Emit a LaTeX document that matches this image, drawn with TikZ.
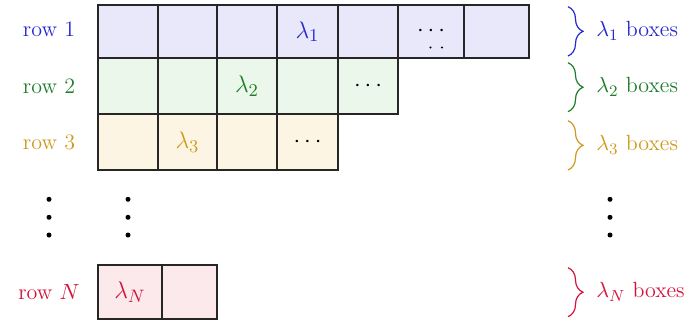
\documentclass[tikz,border=0pt]{standalone}
\usetikzlibrary{fit,decorations.pathreplacing}

\definecolor{rowblue}{RGB}{40,40,210}
\definecolor{rowgreen}{RGB}{30,125,40}
\definecolor{rowgold}{RGB}{205,155,30}
\definecolor{rowred}{RGB}{210,20,60}
\definecolor{fillblue}{RGB}{232,232,250}
\definecolor{fillgreen}{RGB}{234,247,234}
\definecolor{fillgold}{RGB}{253,245,228}
\definecolor{fillred}{RGB}{252,233,236}

% one box of the diagram: name, left, top, right, bottom, fill, text colour, text
\newcommand{\youngcell}[8]{%
  \node[cellbox,fill=#6,fit={(#2,#3) (#4,#5)}] (#1) {};
  \node[celltext,text=#7] at (#1.center) {#8};}

\begin{document}
\begin{tikzpicture}[x=0.5pt,y=-0.5pt,
  cellbox/.style={inner sep=0pt,outer sep=0pt},
  cellborder/.style={draw=black!85,line width=0.9pt},
  celltext/.style={font=\fontsize{13}{15}\selectfont,inner sep=0pt},
  rowlabel/.style={font=\fontsize{11}{13}\selectfont,inner sep=0pt},
  countlabel/.style={font=\fontsize{11}{13}\selectfont,anchor=west,inner sep=0pt},
  rowbrace/.style={decorate,decoration={brace,amplitude=7.5pt},line width=0.6pt},
  bigdot/.style={circle,fill=black,inner sep=0pt,minimum size=2.5pt}]
\useasboundingbox (0,0) rectangle (687,321);

% row 1
\youngcell{a1}{98}{5}{158}{58}{fillblue}{rowblue}{}
\youngcell{a2}{158}{5}{217}{58}{fillblue}{rowblue}{}
\youngcell{a3}{217}{5}{277}{58}{fillblue}{rowblue}{}
\youngcell{a4}{277}{5}{338}{58}{fillblue}{rowblue}{$\lambda_1$}
\youngcell{a5}{338}{5}{398}{58}{fillblue}{rowblue}{}
\youngcell{a6}{398}{5}{464}{58}{fillblue}{black}{$\cdots$}
\youngcell{a7}{464}{5}{529}{58}{fillblue}{rowblue}{}
\fill (430.5,47.5) circle (0.6pt);
\fill (442,47.5) circle (0.6pt);

% row 2
\youngcell{b1}{98}{58}{158}{114}{fillgreen}{rowgreen}{}
\youngcell{b2}{158}{58}{217}{114}{fillgreen}{rowgreen}{}
\youngcell{b3}{217}{58}{277}{114}{fillgreen}{rowgreen}{$\lambda_2$}
\youngcell{b4}{277}{58}{338}{114}{fillgreen}{rowgreen}{}
\youngcell{b5}{338}{58}{398}{114}{fillgreen}{black}{$\cdots$}

% row 3
\youngcell{c1}{98}{114}{158}{170}{fillgold}{rowgold}{}
\youngcell{c2}{158}{114}{217}{170}{fillgold}{rowgold}{$\lambda_3$}
\youngcell{c3}{217}{114}{277}{170}{fillgold}{rowgold}{}
\youngcell{c4}{277}{114}{338}{170}{fillgold}{black}{$\cdots$}

% row N
\youngcell{n1}{98}{265}{162}{319}{fillred}{rowred}{$\lambda_N$}
\youngcell{n2}{162}{265}{217}{319}{fillred}{rowred}{}

% borders on top of all fills, so shared edges keep their full width
\foreach \n in {a1,a2,a3,a4,a5,a6,a7,b1,b2,b3,b4,b5,c1,c2,c3,c4,n1,n2}
  \draw[cellborder] (\n.north west) rectangle (\n.south east);

% row labels
\node[rowlabel,text=rowblue] (l1) at (49,29) {row 1};
\node[rowlabel,text=rowgreen] (l2) at (49,86) {row 2};
\node[rowlabel,text=rowgold] (l3) at (49,142) {row 3};
\node[rowlabel,text=rowred] (lN) at (49,292) {row $N$};

% vertical ellipses between row 3 and row N
\foreach \x/\k in {49/p,128/q,610/s}{
  \foreach \y/\j in {199.3/1,217.3/2,235/3}{
    \node[bigdot] (\k\j) at (\x,\y) {};
  }
}

% braces with box counts
\coordinate (t1) at (568,6.7);   \coordinate (u1) at (568,56);
\coordinate (t2) at (568,62.7);  \coordinate (u2) at (568,111.7);
\coordinate (t3) at (568,120.7); \coordinate (u3) at (568,170);
\coordinate (tN) at (568,267.7); \coordinate (uN) at (568,316.7);
\draw[rowbrace,rowblue] (t1) -- (u1);
\draw[rowbrace,rowgreen] (t2) -- (u2);
\draw[rowbrace,rowgold] (t3) -- (u3);
\draw[rowbrace,rowred] (tN) -- (uN);
\node[countlabel,text=rowblue] (k1) at (596,31) {$\lambda_1$ boxes};
\node[countlabel,text=rowgreen] (k2) at (596,87) {$\lambda_2$ boxes};
\node[countlabel,text=rowgold] (k3) at (596,145) {$\lambda_3$ boxes};
\node[countlabel,text=rowred] (kN) at (596,292) {$\lambda_N$ boxes};
\end{tikzpicture}
\end{document}
